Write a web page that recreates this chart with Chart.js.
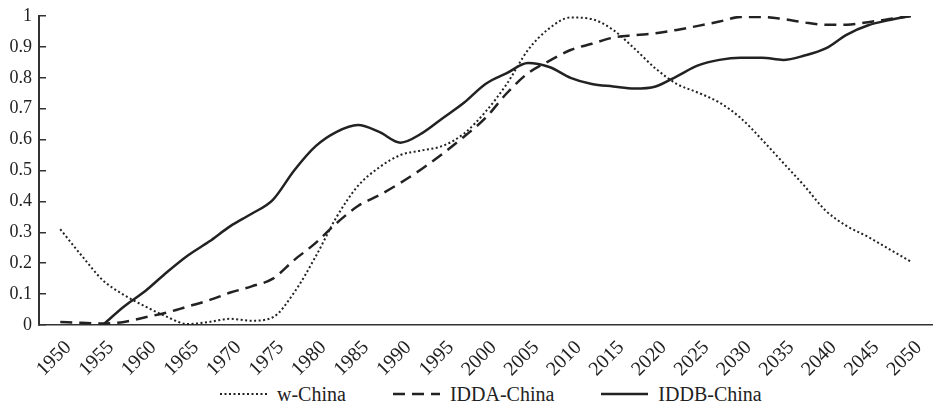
<!DOCTYPE html>
<html>
<head>
<meta charset="utf-8">
<script src="https://cdn.jsdelivr.net/npm/chart.js@4.4.0/dist/chart.umd.min.js"></script>
<style>
html, body { margin:0; padding:0; background:#fff; overflow:hidden; }
#wrap { position:relative; width:934px; height:408px; }
#caixa { position:absolute; left:0; top:0; width:934px; height:380px; }
#legenda { position:absolute; left:220px; top:380px; height:28px; display:flex; align-items:center;
  font-family:"Liberation Serif", "Times New Roman", serif; font-size:20px; color:#222; white-space:nowrap; }
.item { display:flex; align-items:center; margin-right:47px; }
.item svg { margin-right:10px; }
</style>
</head>
<body>
<div id="wrap">
  <div id="caixa"><canvas id="grafico" width="934" height="380"></canvas></div>
  <div id="legenda"></div>
</div>
<script>

// ===========================
// DADOS
// ===========================

const anos = [
  1950, 1952.5, 1955, 1957.5, 1960, 1962.5, 1965, 1967.5, 1970, 1972.5,
  1975, 1977.5, 1980, 1982.5, 1985, 1987.5, 1990, 1992.5, 1995, 1997.5,
  2000, 2002.5, 2005, 2007.5, 2010, 2012.5, 2015, 2017.5, 2020, 2022.5,
  2025, 2027.5, 2030, 2032.5, 2035, 2037.5, 2040, 2042.5, 2045, 2047.5, 2050
];

const wChina = [
  0.31, 0.225, 0.145, 0.097, 0.06, 0.027, 0.003, 0.01, 0.02, 0.014,
  0.025, 0.105, 0.22, 0.35, 0.45, 0.51, 0.55, 0.565, 0.58, 0.62,
  0.69, 0.78, 0.89, 0.96, 0.995, 0.99, 0.955, 0.895, 0.83, 0.78,
  0.752, 0.72, 0.67, 0.60, 0.525, 0.45, 0.37, 0.32, 0.285, 0.245, 0.205
];

const iddaChina = [
  0.01, 0.007, 0.005, 0.01, 0.025, 0.04, 0.06, 0.08, 0.105, 0.125,
  0.15, 0.21, 0.265, 0.33, 0.385, 0.42, 0.46, 0.505, 0.555, 0.61,
  0.67, 0.75, 0.815, 0.855, 0.89, 0.91, 0.93, 0.938, 0.944, 0.955,
  0.968, 0.982, 0.997, 0.997, 0.99, 0.979, 0.972, 0.972, 0.98, 0.99, 1.0
];

const iddbChina = [
  null, null, 0, 0.06, 0.11, 0.17, 0.225, 0.27, 0.32, 0.36,
  0.405, 0.50, 0.578, 0.625, 0.647, 0.625, 0.59, 0.62, 0.67, 0.72,
  0.78, 0.815, 0.848, 0.835, 0.80, 0.78, 0.772, 0.765, 0.772, 0.805,
  0.84, 0.858, 0.865, 0.865, 0.858, 0.872, 0.895, 0.94, 0.97, 0.987, 1.0
];

const ticksX = [
  1950, 1955, 1960, 1965, 1970, 1975, 1980, 1985, 1990, 1995, 2000,
  2005, 2010, 2015, 2020, 2025, 2030, 2035, 2040, 2045, 2050
];

const ticksY = [0, 0.1, 0.2, 0.3, 0.4, 0.5, 0.6, 0.7, 0.8, 0.9, 1];
const rotulosY = ["0", "0.1", "0.2", "0.3", "0.4", "0.5", "0.6", "0.7", "0.8", "0.9", "1"];


const familia = "'Liberation Serif', 'Times New Roman', serif";
const cor = "#222";

Chart.defaults.font.family = familia;
Chart.defaults.font.size = 18;
Chart.defaults.color = cor;


function pontos(valores){
  return anos.map((ano, i) => ({ x: ano, y: valores[i] }));
}


// ===========================
// GRÁFICO
// ===========================

const grafico = new Chart(

  document.getElementById("grafico"),

  {
    type: "line",

    data: {
      datasets: [
        {
          label: "w-China",
          data: pontos(wChina),
          borderColor: cor,
          borderWidth: 2,
          borderDash: [2, 2.5]
        },
        {
          label: "IDDA-China",
          data: pontos(iddaChina),
          borderColor: cor,
          borderWidth: 2.5,
          borderDash: [12, 7]
        },
        {
          label: "IDDB-China",
          data: pontos(iddbChina),
          borderColor: cor,
          borderWidth: 2.5,
          borderDash: []
        }
      ]
    },

    options: {
      responsive: false,
      animation: false,
      cubicInterpolationMode: "monotone",
      elements: { point: { radius: 0 } },
      layout: { padding: { top: 0, right: 2, left: 0, bottom: 0 } },

      plugins: {
        legend: { display: false },
        tooltip: { enabled: false }
      },

      scales: {
        x: {
          type: "linear",
          min: 1947.5,
          max: 2052.5,
          afterBuildTicks: escala => { escala.ticks = ticksX.map(v => ({ value: v })); },
          afterFit: escala => { escala.height = 55; },
          grid: { display: false },
          border: { display: true, color: "#333", width: 1.5 },
          ticks: {
            autoSkip: false,
            minRotation: 45,
            maxRotation: 45,
            labelOffset: 8,
            font: { family: familia, size: 20 },
            callback: v => String(v)
          }
        },
        y: {
          min: 0,
          max: 1,
          afterBuildTicks: escala => { escala.ticks = ticksY.map(v => ({ value: v })); },
          // largura fixa do eixo e topo da área em 16px
          afterFit: escala => { escala.width = 39; escala.paddingTop = 16; },
          grid: { drawOnChartArea: false, tickLength: -7, color: "#333", lineWidth: 1.5 },
          border: { display: true, color: "#333", width: 2 },
          ticks: {
            padding: 14,
            font: { family: familia, size: 18 },
            callback: (v, i) => rotulosY[i]
          }
        }
      }
    }
  }

);


// ===========================
// LEGENDA
// ===========================

const legenda = document.getElementById("legenda");

grafico.data.datasets.forEach(ds => {
  const item = document.createElement("div");
  item.className = "item";
  item.innerHTML =
    '<svg width="47" height="8"><line x1="0" y1="4" x2="47" y2="4" stroke="' + ds.borderColor +
    '" stroke-width="' + ds.borderWidth + '" stroke-dasharray="' + ds.borderDash.join(",") + '"/></svg>' +
    '<span>' + ds.label + '</span>';
  legenda.appendChild(item);
});

</script>
</body>
</html>
